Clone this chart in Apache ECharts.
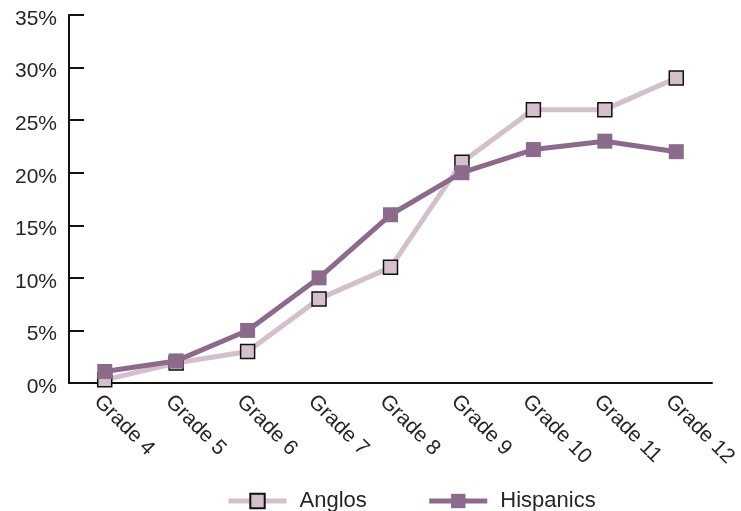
<!DOCTYPE html>
<html><head><meta charset="utf-8">
<script src="https://cdn.jsdelivr.net/npm/echarts@6/dist/echarts.min.js"></script>
<style>html,body{margin:0;padding:0;background:#fff}#c{width:741px;height:511px}</style>
</head><body><div id="c"></div>
<script>
var categories = ["Grade 4","Grade 5","Grade 6","Grade 7","Grade 8","Grade 9","Grade 10","Grade 11","Grade 12"];
var anglos = [0.3, 1.9, 3, 8, 11, 21, 26, 26, 29];
var hispanics = [1.1, 2.1, 5, 10, 16, 20, 22.2, 23, 22];
var yTicks = [0,5,10,15,20,25,30,35];

var chart = echarts.init(document.getElementById('c'), null, {renderer:'canvas'});
var font = 'Liberation Sans, Arial, sans-serif';
var txt = '#262626';
chart.setOption({
  animation:false,
  grid:{left:69,right:29,top:15,bottom:128,containLabel:false,outerBoundsMode:'none'},
  legend:{
    top:485, left:221, itemGap:60, itemWidth:58, itemHeight:18,
    textStyle:{fontFamily:font,fontSize:22,color:txt,padding:[0,0,0,8]},
    data:[
      {name:'Anglos',lineStyle:{width:5}},
      {name:'Hispanics',lineStyle:{width:5}}
    ]
  },
  xAxis:{
    type:'category', data:categories, boundaryGap:true,
    axisLine:{lineStyle:{color:'#111',width:2}},
    axisTick:{inside:true,length:8,lineStyle:{color:'#111',width:2},alignWithLabel:false},
    axisLabel:{rotate:-45,fontFamily:font,fontSize:21,color:txt,margin:8,verticalAlign:'top'}
  },
  yAxis:{
    type:'value', min:0, max:35, interval:5,
    axisLine:{show:true,lineStyle:{color:'#111',width:2}},
    axisTick:{show:true,inside:true,length:15,lineStyle:{color:'#111',width:2}},
    splitLine:{show:false},
    axisLabel:{fontFamily:font,fontSize:21,color:txt,margin:12,
      formatter:function(v){return '{a|'+v+'%}';},
      rich:{a:{fontFamily:font,fontSize:21,color:txt,padding:[8,0,0,0]}}}
  },
  series:[
    {name:'Anglos',type:'line',data:anglos,symbol:'rect',symbolSize:14,
     lineStyle:{color:'#d3c0cc',width:5},
     itemStyle:{color:'#d3c0cc',borderColor:'#111',borderWidth:1.5},z:2},
    {name:'Hispanics',type:'line',data:hispanics,symbol:'rect',symbolSize:15,
     lineStyle:{color:'#8b6a8b',width:5},
     itemStyle:{color:'#8b6a8b',borderWidth:0},z:3}
  ]
});
</script></body></html>
